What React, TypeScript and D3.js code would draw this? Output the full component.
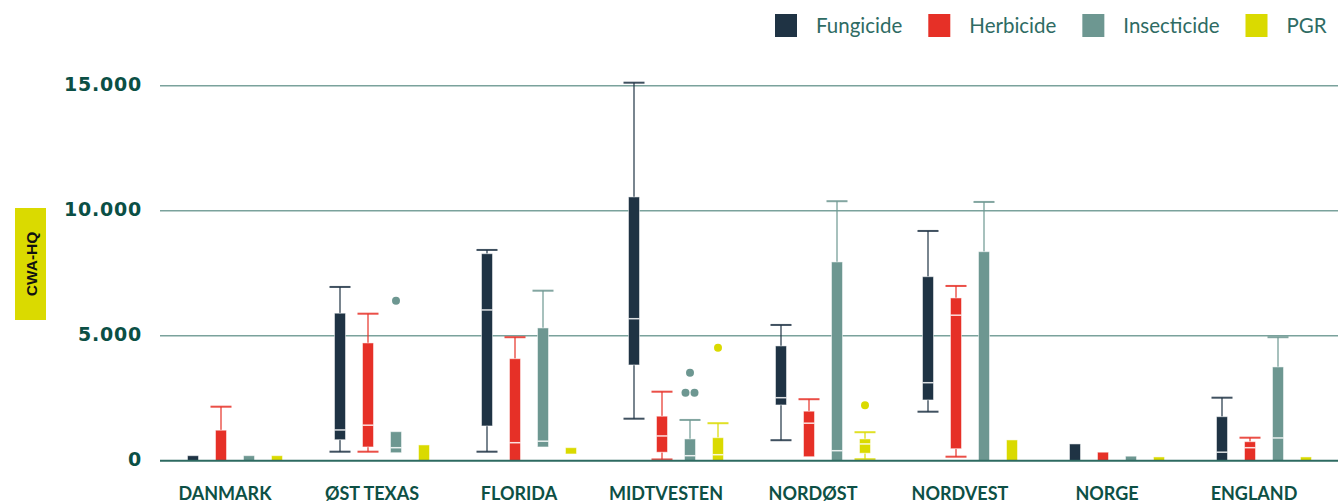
import React, { useEffect, useRef } from 'react';
import * as d3 from 'd3';

// Categories and series
const categories = ['DANMARK', 'ØST TEXAS', 'FLORIDA', 'MIDTVESTEN', 'NORDØST', 'NORDVEST', 'NORGE', 'ENGLAND'];
const seriesNames = ['Fungicide', 'Herbicide', 'Insecticide', 'PGR'];
const seriesColors = ['#1f3344', '#e63027', '#6d9791', '#dada00'];

// [low, q1, median, q3, high] per category
const fungicide = [
  [0, 0, 0, 200, 200],
  [360, 840, 1230, 5900, 6950],
  [360, 1390, 6030, 8280, 8430],
  [1680, 3830, 5680, 10550, 15120],
  [820, 2230, 2520, 4590, 5430],
  [1960, 2430, 3120, 7360, 9190],
  [0, 0, 0, 670, 670],
  [0, 0, 340, 1760, 2520],
];
const herbicide = [
  [0, 0, 0, 1220, 2160],
  [360, 550, 1420, 4710, 5880],
  [0, 0, 720, 4080, 4940],
  [50, 340, 990, 1780, 2760],
  [160, 160, 1500, 1980, 2460],
  [160, 480, 5820, 6510, 6990],
  [0, 0, 0, 340, 340],
  [0, 0, 520, 760, 920],
];
const insecticide = [
  [0, 0, 0, 200, 200],
  [320, 320, 520, 1160, 1160],
  [550, 550, 780, 5310, 6800],
  [0, 0, 200, 870, 1630],
  [0, 0, 400, 7950, 10380],
  [0, 0, 0, 8360, 10350],
  [0, 0, 0, 180, 180],
  [0, 0, 910, 3750, 4940],
];
const pgr = [
  [0, 0, 0, 200, 200],
  [0, 0, 0, 630, 630],
  [270, 270, 270, 520, 520],
  [0, 0, 240, 920, 1500],
  [60, 300, 670, 870, 1140],
  [0, 0, 0, 830, 830],
  [0, 0, 0, 150, 150],
  [0, 0, 0, 150, 150],
];

// Outliers: [series, category, value]
const outliers: [string, string, number][] = [
  ['Insecticide', 'ØST TEXAS', 6400],
  ['Insecticide', 'MIDTVESTEN', 3520],
  ['Insecticide', 'MIDTVESTEN', 2720],
  ['Insecticide', 'MIDTVESTEN', 2720],
  ['PGR', 'MIDTVESTEN', 4520],
  ['PGR', 'NORDØST', 2220],
];

const yTicks = [0, 5000, 10000, 15000];
const yLabel = 'CWA-HQ';

const allSeries = [fungicide, herbicide, insecticide, pgr];

const App: React.FC = () => {
  const ref = useRef<SVGSVGElement>(null);

  useEffect(() => {
    if (!ref.current) return;
    const svg = d3.select(ref.current);
    svg.selectAll('*').remove();

    const width = 1338;
    const y = d3.scaleLinear().domain([0, 15000]).range([460.7, 85.7]);
    const x = d3.scaleBand().domain(categories).range([151.5, 1327.5]);
    const inner = d3.scaleBand().domain(seriesNames).range([27.5, 139.5]);
    const boxW = 11;
    const capW = 21;

    const fmt = d3.formatLocale({ decimal: ',', thousands: '.', grouping: [3], currency: ['', ''] }).format(',');

    // Gridlines
    svg.append('g')
      .selectAll('line')
      .data(yTicks.filter(t => t > 0))
      .join('line')
      .attr('x1', 160)
      .attr('x2', width)
      .attr('y1', d => y(d))
      .attr('y2', d => y(d))
      .attr('stroke', '#7aa29c')
      .attr('stroke-width', 1.5);

    // Tick labels
    svg.append('g')
      .selectAll('text')
      .data(yTicks)
      .join('text')
      .attr('x', 142)
      .attr('y', d => y(d) + 5)
      .attr('text-anchor', 'end')
      .style('font-family', '"DejaVu Sans", sans-serif')
      .style('font-weight', 'bold')
      .style('font-size', '19px')
      .style('letter-spacing', '0.8px')
      .style('fill', '#0b4f45')
      .text(d => fmt(d));

    // Y label box
    const yl = svg.append('g');
    yl.append('rect')
      .attr('x', 15).attr('y', 208).attr('width', 31).attr('height', 112)
      .attr('fill', '#dada00');
    yl.append('text')
      .attr('transform', 'translate(31,264) rotate(-90)')
      .attr('text-anchor', 'middle')
      .attr('dominant-baseline', 'central')
      .style('font-family', '"Liberation Sans", Arial, sans-serif')
      .style('font-weight', 'bold')
      .style('font-size', '15.5px')
      .style('fill', '#111')
      .text(yLabel);

    // Boxes
    allSeries.forEach((series, si) => {
      const name = seriesNames[si];
      const color = seriesColors[si];
      const g = svg.append('g');
      series.forEach((d, ci) => {
        const [low, q1, med, q3, high] = d;
        const cx = (x(categories[ci]) || 0) + (inner(name) || 0) + inner.bandwidth() / 2;
        if (high > q3) {
          g.append('line')
            .attr('x1', cx).attr('x2', cx)
            .attr('y1', y(q3)).attr('y2', y(high))
            .attr('stroke', color).attr('stroke-opacity', 0.6).attr('stroke-width', 2);
          g.append('line')
            .attr('x1', cx - capW / 2).attr('x2', cx + capW / 2)
            .attr('y1', y(high)).attr('y2', y(high))
            .attr('stroke', color).attr('stroke-opacity', 0.85).attr('stroke-width', 2);
        }
        if (low < q1) {
          g.append('line')
            .attr('x1', cx).attr('x2', cx)
            .attr('y1', y(q1)).attr('y2', y(low))
            .attr('stroke', color).attr('stroke-opacity', 0.6).attr('stroke-width', 2);
          g.append('line')
            .attr('x1', cx - capW / 2).attr('x2', cx + capW / 2)
            .attr('y1', y(low)).attr('y2', y(low))
            .attr('stroke', color).attr('stroke-opacity', 0.85).attr('stroke-width', 2);
        }
        g.append('rect')
          .attr('x', cx - boxW / 2)
          .attr('y', y(q3))
          .attr('width', boxW)
          .attr('height', y(q1) - y(q3))
          .attr('fill', color)
          .attr('stroke', '#ffffff')
          .attr('stroke-opacity', 0.5)
          .attr('stroke-width', 1);
        if (med > q1 && med < q3) {
          g.append('line')
            .attr('x1', cx - boxW / 2).attr('x2', cx + boxW / 2)
            .attr('y1', y(med)).attr('y2', y(med))
            .attr('stroke', '#ffffff').attr('stroke-opacity', 0.85).attr('stroke-width', 1.5);
        }
      });
    });

    // Outliers, dodged horizontally when they coincide
    const groups = d3.group(outliers, o => `${o[0]}|${o[1]}|${o[2]}`);
    const og = svg.append('g');
    groups.forEach(items => {
      items.forEach((o, i) => {
        const si = seriesNames.indexOf(o[0]);
        const cx = (x(o[1]) || 0) + (inner(o[0]) || 0) + inner.bandwidth() / 2 + (i - (items.length - 1) / 2) * 9;
        og.append('circle')
          .attr('cx', cx)
          .attr('cy', y(o[2]))
          .attr('r', 4)
          .attr('fill', seriesColors[si]);
      });
    });

    // Zero line
    svg.append('line')
      .attr('x1', 160).attr('x2', width)
      .attr('y1', y(0)).attr('y2', y(0))
      .attr('stroke', '#2d6a61').attr('stroke-width', 2);

    // Category labels
    svg.append('g')
      .selectAll('text')
      .data(categories)
      .join('text')
      .attr('x', d => (x(d) || 0) + x.bandwidth() / 2)
      .attr('y', 500)
      .attr('text-anchor', 'middle')
      .style('font-family', 'Lato, sans-serif')
      .style('font-weight', 'bold')
      .style('font-size', '18px')
      .style('fill', '#0d5045')
      .text(d => d);

    // Legend
    const legend = svg.append('g');
    let lx = 775;
    seriesNames.forEach((name, i) => {
      legend.append('rect')
        .attr('x', lx).attr('y', 14).attr('width', 22).attr('height', 23)
        .attr('fill', seriesColors[i]);
      const t = legend.append('text')
        .attr('x', lx + 41)
        .attr('y', 33)
        .style('font-family', 'Lato, sans-serif')
        .style('font-size', '20.5px')
        .style('fill', '#2e6b63')
        .text(name);
      const w = (t.node() as SVGTextElement).getComputedTextLength();
      lx = lx + 41 + w + 26;
    });
  }, []);

  return (
    <svg
      ref={ref}
      width={1338}
      height={504}
      style={{ position: 'absolute', left: 0, top: 0, display: 'block', background: '#fff' }}
    />
  );
};

export default App;
